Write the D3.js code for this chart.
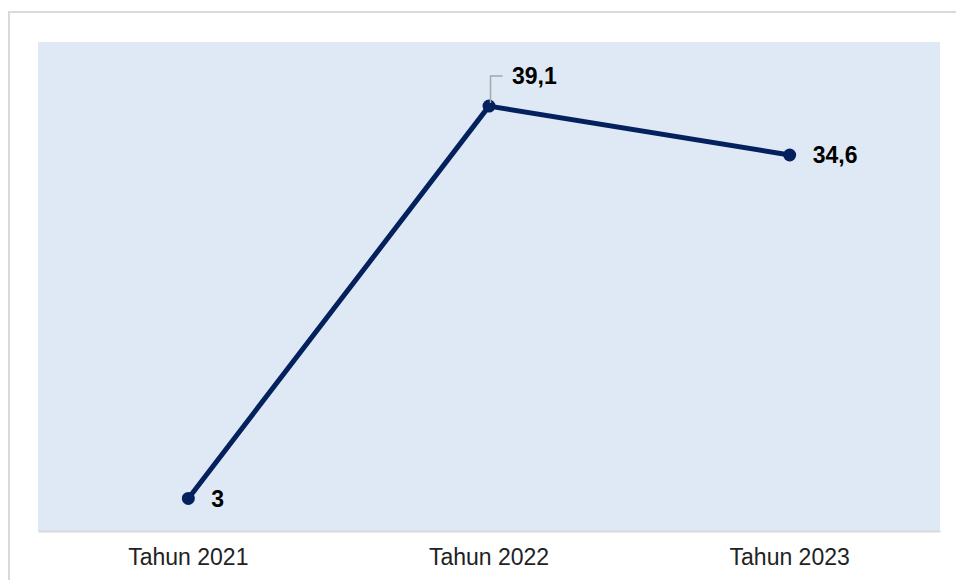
<!DOCTYPE html>
<html>
<head>
<meta charset="utf-8">
<script src="https://cdn.jsdelivr.net/npm/d3@7"></script>
<style>
  html, body { margin: 0; padding: 0; background: #fff; }
  svg { display: block; font-family: "Liberation Sans", Arial, sans-serif; }
</style>
</head>
<body>
<svg id="chart" width="956" height="580"></svg>
<script>
// data
var categories = ["Tahun 2021", "Tahun 2022", "Tahun 2023"];
var values = [3, 39.1, 34.6];
var valueLabels = ["3", "39,1", "34,6"];

var svg = d3.select("#chart"),
    margin = {top: 42, right: 16, bottom: 49, left: 38},
    width = +svg.attr("width") - margin.left - margin.right,
    height = +svg.attr("height") - margin.top - margin.bottom;

// outer frame
svg.append("rect")
    .attr("x", 9).attr("y", 12)
    .attr("width", 960).attr("height", 600)
    .attr("fill", "#fff")
    .attr("stroke", "#d9d9d9")
    .attr("stroke-width", 2);

var g = svg.append("g").attr("transform", "translate(" + margin.left + "," + margin.top + ")");

var x = d3.scaleBand()
    .domain(categories)
    .range([0, width]);

var y = d3.scaleLinear()
    .domain([0, 45])
    .range([height, 0]);

var data = categories.map(function(c, i) {
  return {cat: c, value: values[i], label: valueLabels[i]};
});

// plot area
g.append("rect")
    .attr("width", width)
    .attr("height", height)
    .attr("fill", "#dee9f5");

// x axis
var xAxis = g.append("g")
    .attr("transform", "translate(0," + height + ")")
    .call(d3.axisBottom(x).tickSize(0).tickPadding(18));
xAxis.select(".domain").attr("stroke", "#d9d9d9").attr("stroke-width", 2);
xAxis.selectAll("text")
    .attr("font-size", "23px")
    .attr("font-family", "Liberation Sans, Arial, sans-serif")
    .attr("fill", "#222");

var cx = function(d) { return x(d.cat) + x.bandwidth() / 2; };

var line = d3.line()
    .x(cx)
    .y(function(d) { return y(d.value); });

g.append("path")
    .datum(data)
    .attr("fill", "none")
    .attr("stroke", "#04215e")
    .attr("stroke-width", 5)
    .attr("stroke-linejoin", "round")
    .attr("d", line);

g.selectAll(".dot")
    .data(data)
  .enter().append("circle")
    .attr("class", "dot")
    .attr("cx", cx)
    .attr("cy", function(d) { return y(d.value); })
    .attr("r", 6.5)
    .attr("fill", "#04215e");

// leader line for the 2022 label
var peak = data[1];
g.append("path")
    .attr("fill", "none")
    .attr("stroke", "#a6a6a6")
    .attr("stroke-width", 1.5)
    .attr("d", "M" + (cx(peak) + 1.5) + "," + (y(peak.value) - 3) +
               "V" + (y(peak.value) - 30) + "h12");

g.selectAll(".lbl")
    .data(data)
  .enter().append("text")
    .attr("class", "lbl")
    .attr("x", function(d) { return cx(d) + 23; })
    .attr("y", function(d, i) { return y(d.value) + (i === 1 ? -30 : 0); })
    .attr("dy", "0.36em")
    .attr("font-size", "23px")
    .attr("font-weight", "bold")
    .attr("fill", "#000")
    .text(function(d) { return d.label; });
</script>
</body>
</html>
